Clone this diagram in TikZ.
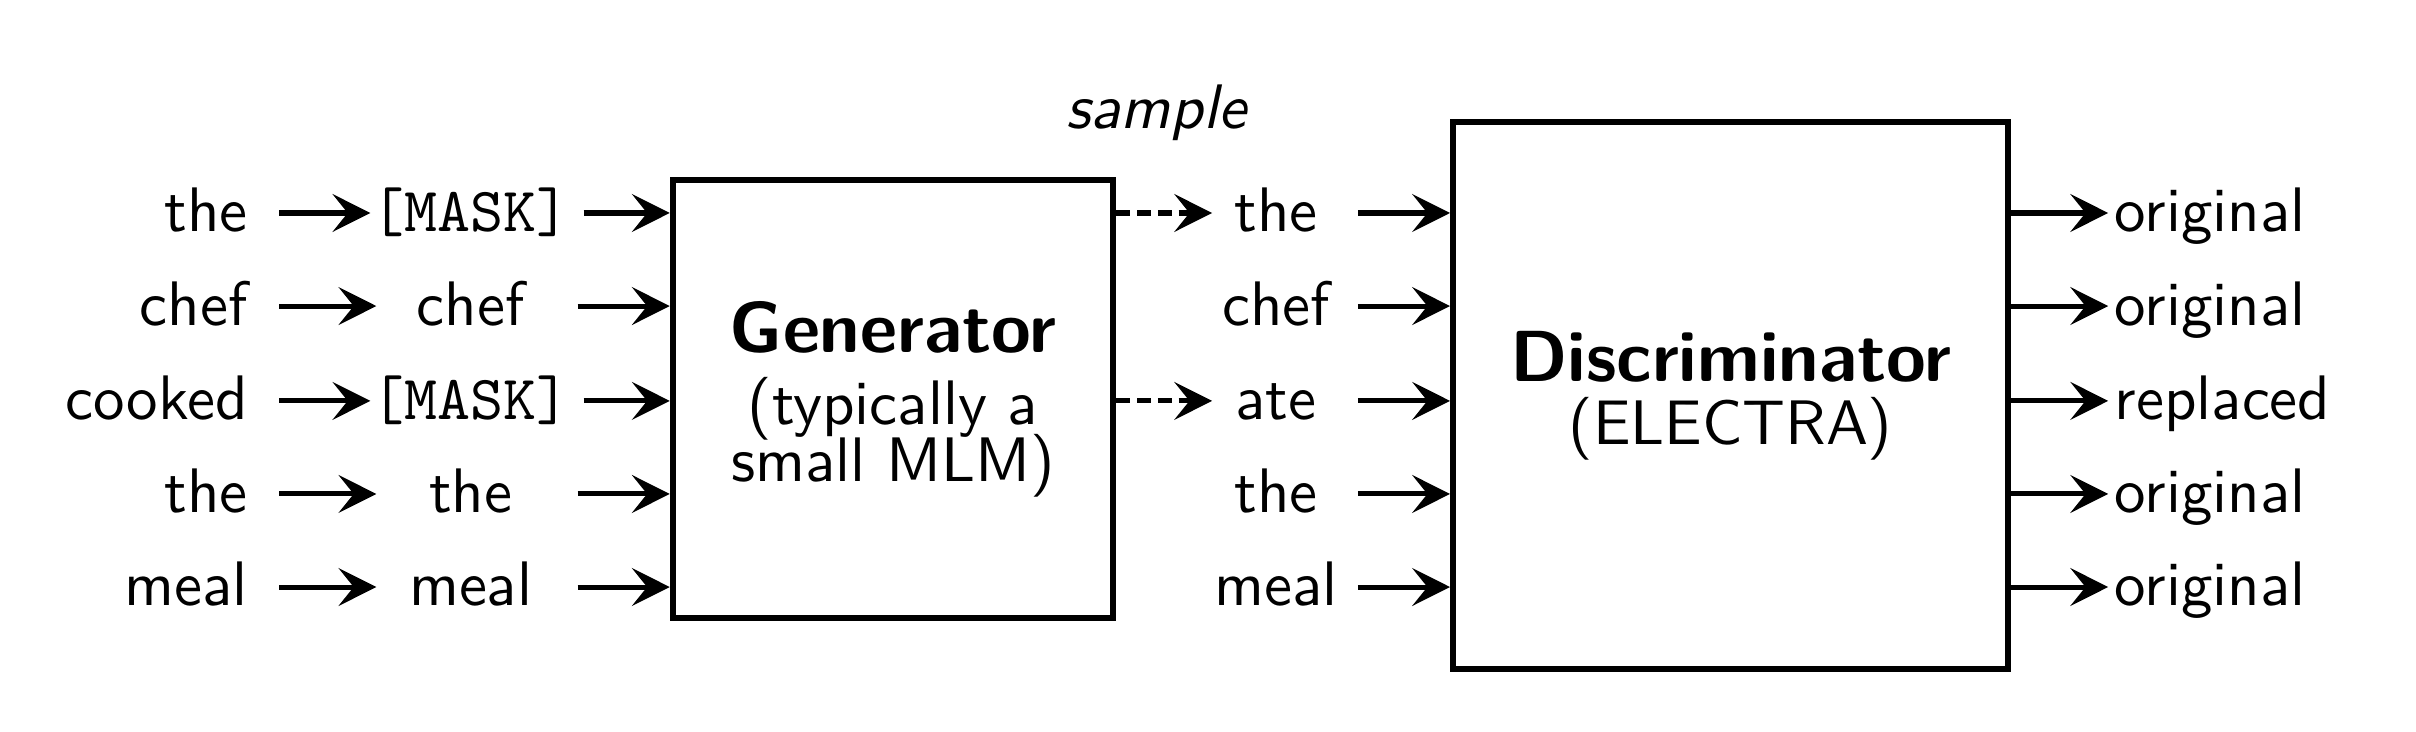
\documentclass[tikz,border=0pt]{standalone}
\usetikzlibrary{arrows.meta}
\newcommand{\msktok}{{\ttfamily [MASK]}}
\tikzset{
  word/.style={inner sep=0pt, text height=1.6ex, text depth=0.2ex, font=\sffamily},
  mid/.style={word, minimum width=1.04cm},
  rmid/.style={word, minimum width=0.70cm},
  blk/.style={draw, line width=1pt, align=center, font=\sffamily},
  arr/.style={-{Stealth[length=6pt,width=6pt,inset=2.4pt]}, line width=0.8pt},
  dsh/.style={arr, dash pattern=on 2.2pt off 1.1pt}
}
\begin{document}
\begin{tikzpicture}
  \useasboundingbox (0,0) rectangle (13.5,-4.09);
  \node[word,anchor=east] (w1) at ( 1.39,-1.19) {the};
  \node[word,anchor=east] (w2) at ( 1.39,-1.71) {chef};
  \node[word,anchor=east] (w3) at ( 1.39,-2.24) {cooked};
  \node[word,anchor=east] (w4) at ( 1.39,-2.76) {the};
  \node[word,anchor=east] (w5) at ( 1.39,-3.28) {meal};
  \node[mid] (m1) at ( 2.63,-1.19) {\msktok};
  \node[mid] (m2) at ( 2.63,-1.71) {chef};
  \node[mid] (m3) at ( 2.63,-2.24) {\msktok};
  \node[mid] (m4) at ( 2.63,-2.76) {the};
  \node[mid] (m5) at ( 2.63,-3.28) {meal};
  \node[blk,minimum width=2.46cm,minimum height=2.45cm] (gen) at ( 4.99,-2.23)
    {{\fontsize{11.5}{13}\selectfont\bfseries Generator}\\[-0.5pt](typically a\\[-3pt]small MLM)};
  \node[font=\sffamily\itshape] (smp) at ( 6.46,-0.63) {sample};
  \node[rmid] (r1) at ( 7.13,-1.19) {the};
  \node[rmid] (r2) at ( 7.13,-1.71) {chef};
  \node[rmid] (r3) at ( 7.13,-2.24) {ate};
  \node[rmid] (r4) at ( 7.13,-2.76) {the};
  \node[rmid] (r5) at ( 7.13,-3.28) {meal};
  \node[blk,minimum width=3.10cm,minimum height=3.06cm] (disc) at ( 9.67,-2.21)
    {{\fontsize{11.5}{13}\selectfont\bfseries Discriminator}\\[-2pt](ELECTRA)};
  \node[word,anchor=west] (o1) at (11.81,-1.19) {original};
  \node[word,anchor=west] (o2) at (11.81,-1.71) {original};
  \node[word,anchor=west] (o3) at (11.81,-2.24) {replaced};
  \node[word,anchor=west] (o4) at (11.81,-2.76) {original};
  \node[word,anchor=west] (o5) at (11.81,-3.28) {original};
  \draw[arr,shorten <=0.17cm] (w1.east) -- (m1.west);
  \draw[arr,shorten <=0.17cm] (w2.east) -- (m2.west);
  \draw[arr,shorten <=0.17cm] (w3.east) -- (m3.west);
  \draw[arr,shorten <=0.17cm] (w4.east) -- (m4.west);
  \draw[arr,shorten <=0.17cm] (w5.east) -- (m5.west);
  \draw[arr,shorten <=0.07cm] (m1.east) -- (m1.east -| gen.west);
  \draw[arr,shorten <=0.07cm] (m2.east) -- (m2.east -| gen.west);
  \draw[arr,shorten <=0.07cm] (m3.east) -- (m3.east -| gen.west);
  \draw[arr,shorten <=0.07cm] (m4.east) -- (m4.east -| gen.west);
  \draw[arr,shorten <=0.07cm] (m5.east) -- (m5.east -| gen.west);
  \draw[dsh] (gen.east |- r1.west) -- (r1.west);
  \draw[dsh] (gen.east |- r3.west) -- (r3.west);
  \draw[arr,shorten <=0.10cm] (r1.east) -- (r1.east -| disc.west);
  \draw[arr,shorten <=0.10cm] (r2.east) -- (r2.east -| disc.west);
  \draw[arr,shorten <=0.10cm] (r3.east) -- (r3.east -| disc.west);
  \draw[arr,shorten <=0.10cm] (r4.east) -- (r4.east -| disc.west);
  \draw[arr,shorten <=0.10cm] (r5.east) -- (r5.east -| disc.west);
  \draw[arr,shorten >=0.03cm] (disc.east |- o1.west) -- (o1.west);
  \draw[arr,shorten >=0.03cm] (disc.east |- o2.west) -- (o2.west);
  \draw[arr,shorten >=0.03cm] (disc.east |- o3.west) -- (o3.west);
  \draw[arr,shorten >=0.03cm] (disc.east |- o4.west) -- (o4.west);
  \draw[arr,shorten >=0.03cm] (disc.east |- o5.west) -- (o5.west);
\end{tikzpicture}
\end{document}
